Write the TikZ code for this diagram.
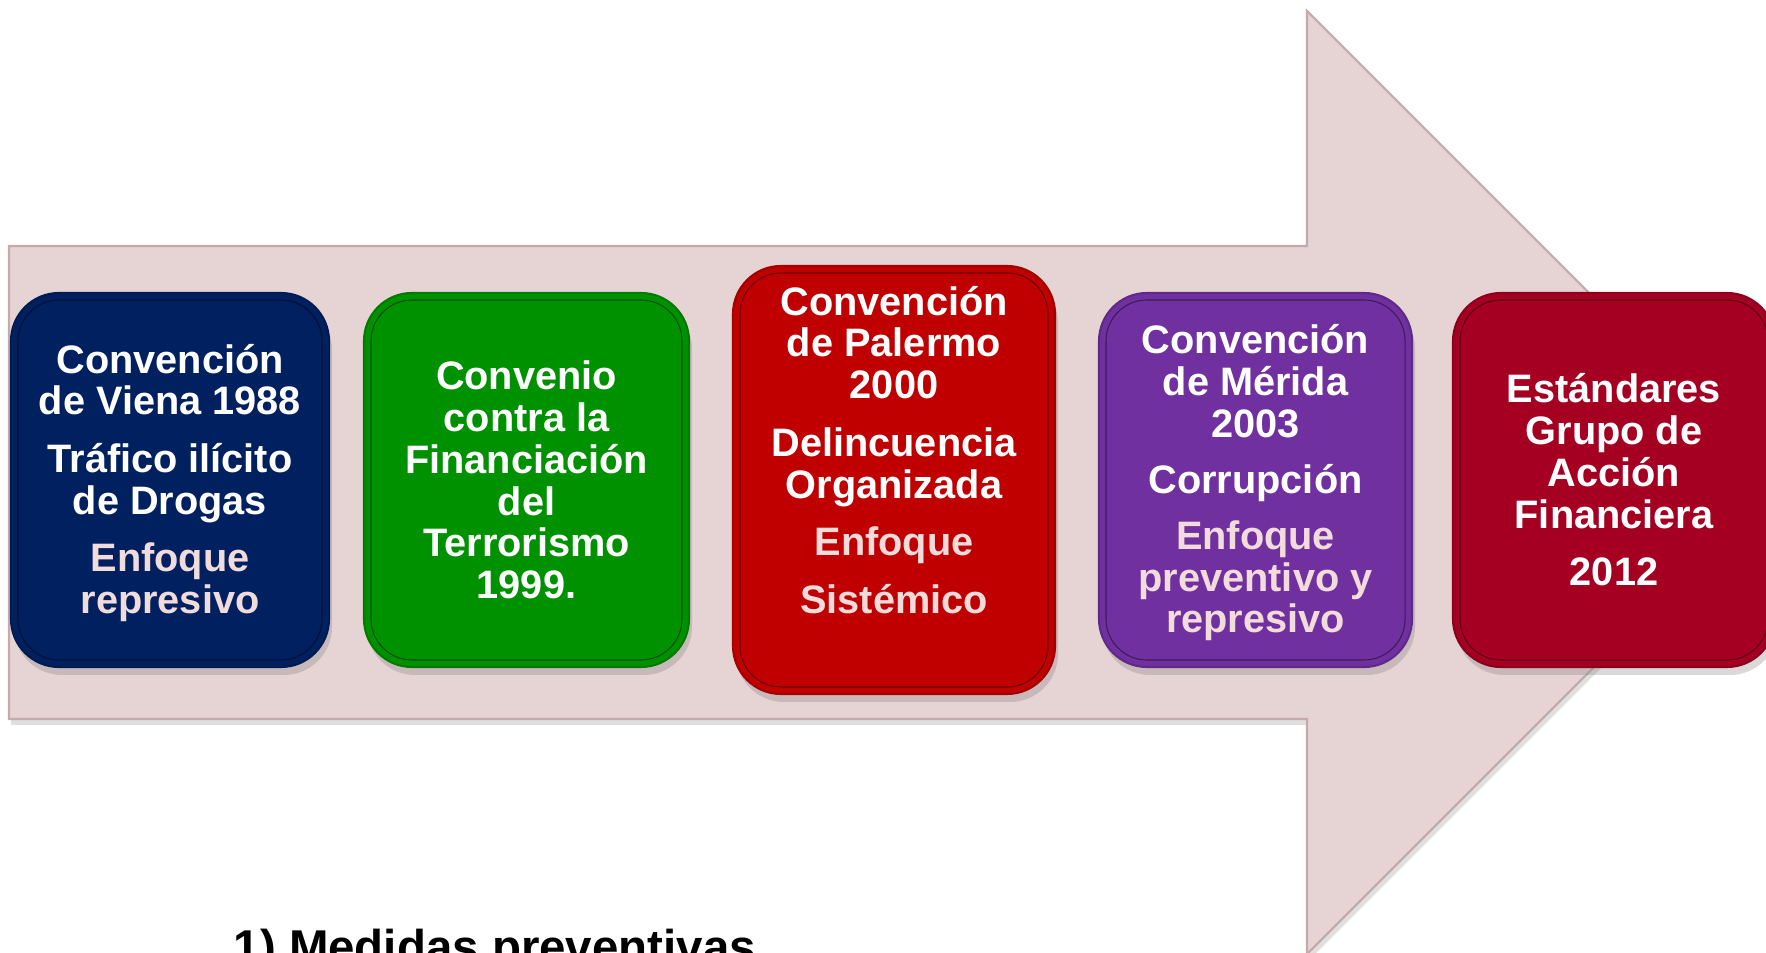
\documentclass[tikz,border=0pt]{standalone}
\usepackage{fontspec}
\setmainfont{Liberation Sans}
\usetikzlibrary{positioning,calc,shadows}
\definecolor{flecha}{HTML}{E6D3D3}
\definecolor{flechaborde}{HTML}{C4AAAA}
\definecolor{azul}{HTML}{002060}
\definecolor{verde}{HTML}{009100}
\definecolor{rojo}{HTML}{C00000}
\definecolor{morado}{HTML}{7030A0}
\definecolor{granate}{HTML}{A50021}
\definecolor{rosa}{HTML}{F2DCDB}

\begin{document}
\begin{tikzpicture}[x=0.1mm,y=0.1mm,
        caja/.style={rounded corners=4.8mm, inner sep=0pt, line width=0.6pt,
          drop shadow={shadow xshift=0.3mm, shadow yshift=-0.8mm, opacity=0.3}},
        borde/.style={rounded corners=4.1mm, inner sep=0pt, line width=0.3pt},
        texto/.style={text=white, align=center, inner sep=0pt,
          font=\fontsize{11.3}{11.9}\selectfont\bfseries}]

        \useasboundingbox (0,0) rectangle (1766,952);
        \clip (0,0) rectangle (1766,952);

        %% background arrow
        \draw[fill=flecha, draw=flechaborde, line width=0.6pt,
          drop shadow={shadow xshift=0.2mm, shadow yshift=-0.6mm, opacity=0.25}]
          (9,706) -- (1307,706) -- (1307,941) -- (1778.5,469.5) -- (1307,-2) -- (1307,233) -- (9,233) -- cycle;

        %% boxes
        \foreach \n/\cx/\cy/\ancho/\alto/\relleno in {1/170/472/31.8/37.4/azul,
            2/526.5/472/32.5/37.4/verde, 3/894/472/32.2/42.8/rojo,
            4/1255.5/472/31.3/37.4/morado, 5/1614/472/32.2/37.4/granate} {
          \node [caja, fill=\relleno, draw=\relleno!85!black, minimum width=\ancho mm,
            minimum height=\alto mm] (caja_\n) at (\cx,\cy) {};
          \node [borde, draw=\relleno!55!black, minimum width=\ancho mm-1.4mm,
            minimum height=\alto mm-1.4mm] (borde_\n) at (caja_\n) {};
        }

        %% texts
        \node [texto] (texto_1) at ($(caja_1)+(0,-3)$) {Convención\\de Viena 1988\\[4.5pt]Tráfico ilícito\\de Drogas\\[4.5pt]\textcolor{rosa}{Enfoque}\\\textcolor{rosa}{represivo}};
        \node [texto] (texto_2) at (caja_2) {Convenio\\contra la\\Financiación\\del\\Terrorismo\\1999.};
        \node [texto] (texto_3) at ($(caja_3)+(0,30)$) {Convención\\de Palermo\\2000\\[4.5pt]Delincuencia\\Organizada\\[4.5pt]\textcolor{rosa}{Enfoque}\\[4.5pt]\textcolor{rosa}{Sistémico}};
        \node [texto] (texto_4) at ($(caja_4)+(0,-3)$) {Convención\\de Mérida\\2003\\[4pt]Corrupción\\[4pt]\textcolor{rosa}{Enfoque}\\\textcolor{rosa}{preventivo y}\\\textcolor{rosa}{represivo}};
        \node [texto] (texto_5) at (caja_5) {Estándares\\Grupo de\\Acción\\Financiera\\[4.5pt]2012};

        \node [anchor=base west, inner sep=0pt, font=\fontsize{13.5}{16}\selectfont\bfseries] (medidas) at (233,-11) {1) Medidas preventivas};

      \end{tikzpicture}
\end{document}
